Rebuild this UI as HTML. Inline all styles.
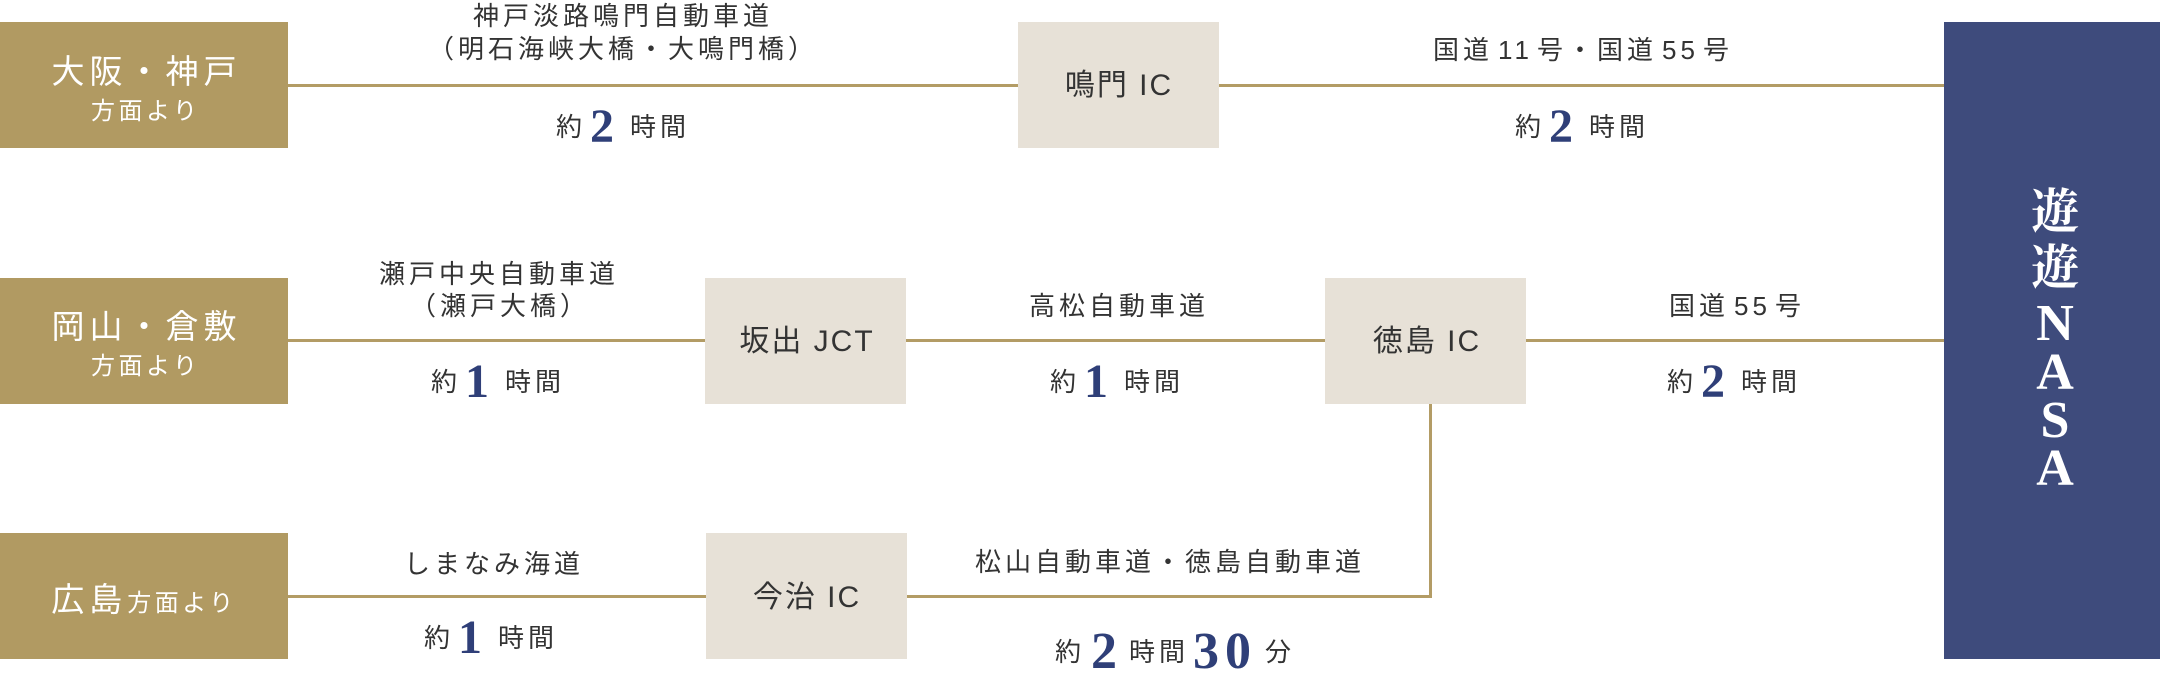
<!DOCTYPE html>
<html lang="ja">
<head>
<meta charset="utf-8">
<style>
  html,body{margin:0;padding:0;background:#fff;}
  body{width:2160px;height:694px;position:relative;overflow:hidden;
       font-family:"Liberation Sans","Noto Sans CJK JP",sans-serif;color:#333;}
  .gold{position:absolute;left:0;width:288px;height:126px;background:#b19a62;}
  .ic{position:absolute;width:201px;height:126px;background:#e7e1d7;}
  .nasa{position:absolute;left:1944px;top:22px;width:216px;height:637px;background:#3e4b7c;}
  .ln{position:absolute;height:3px;background:#b39c65;}
  .lbl{position:absolute;width:600px;text-align:center;font-size:26px;letter-spacing:4px;
       line-height:34px;height:34px;padding-left:4px;box-sizing:border-box;white-space:nowrap;}
  .nb{position:absolute;width:288px;left:0;text-align:center;color:#fff;white-space:nowrap;box-sizing:border-box;}
  .nb1{font-size:33px;letter-spacing:5px;padding-left:5px;line-height:40px;height:40px;}
  .nb2{font-size:24px;letter-spacing:3.5px;padding-left:3.5px;line-height:30px;height:30px;}
  .icl{position:absolute;width:300px;text-align:center;font-size:30px;letter-spacing:2px;padding-left:2px;
       box-sizing:border-box;line-height:40px;height:40px;white-space:nowrap;color:#333;}
  .tm{position:absolute;height:60px;display:flex;align-items:center;white-space:nowrap;}
  .tm .k{font-size:26px;letter-spacing:4px;line-height:26px;}
  .tm .d{font-family:"Liberation Serif",serif;font-weight:bold;font-size:48px;line-height:48px;color:#2f3f78;margin-left:4px;margin-right:16px;}
  .tm .d2{font-family:"Liberation Serif",serif;font-weight:bold;font-size:52px;line-height:52px;color:#2f3f78;}
  .n{margin:0 4px 0 5px;}
  .ns{position:absolute;width:120px;left:1995px;text-align:center;color:#fff;font-weight:bold;}
  .nk{font-family:"Liberation Serif","Noto Serif CJK SC",serif;font-size:48px;line-height:48px;height:48px;}
  .nl{font-family:"Liberation Serif",serif;font-size:52px;line-height:52px;height:52px;}
</style>
</head>
<body>

<!-- boxes -->
<div class="gold" style="top:22px;"></div>
<div class="gold" style="top:278px;"></div>
<div class="gold" style="top:533px;"></div>

<div class="ic" style="left:1018px;top:22px;"></div>
<div class="ic" style="left:705px;top:278px;"></div>
<div class="ic" style="left:1325px;top:278px;"></div>
<div class="ic" style="left:706px;top:533px;"></div>

<div class="nasa"></div>

<!-- lines -->
<div class="ln" style="left:288px;top:84px;width:730px;"></div>
<div class="ln" style="left:1219px;top:84px;width:725px;"></div>
<div class="ln" style="left:288px;top:339px;width:417px;"></div>
<div class="ln" style="left:906px;top:339px;width:419px;"></div>
<div class="ln" style="left:1526px;top:339px;width:418px;"></div>
<div class="ln" style="left:288px;top:595px;width:418px;"></div>
<div class="ln" style="left:907px;top:595px;width:525px;"></div>
<div class="ln" style="left:1429px;top:404px;width:3px;height:194px;"></div>

<!-- node labels -->
<div class="nb nb1" style="top:52px;">大阪・神戸</div>
<div class="nb nb2" style="top:97px;">方面より</div>
<div class="nb nb1" style="top:307px;">岡山・倉敷</div>
<div class="nb nb2" style="top:352px;">方面より</div>
<div class="nb" style="top:580px;line-height:40px;height:40px;"><span style="font-size:33px;letter-spacing:5px;">広島</span><span style="font-size:24px;letter-spacing:3.5px;">方面より</span></div>

<div class="icl" style="left:968px;top:66px;">鳴門 IC</div>
<div class="icl" style="left:656px;top:322px;">坂出 JCT</div>
<div class="icl" style="left:1276px;top:322px;">徳島 IC</div>
<div class="icl" style="left:656px;top:578px;">今治 IC</div>

<!-- connector labels -->
<div class="lbl" style="left:321px;top:-1px;">神戸淡路鳴門自動車道</div>
<div class="lbl" style="left:321px;top:32px;">（明石海峡大橋・大鳴門橋）</div>
<div class="lbl" style="left:1281px;top:33px;">国道<span class="n">11</span>号・国道<span class="n">55</span>号</div>
<div class="lbl" style="left:197px;top:257px;">瀬戸中央自動車道</div>
<div class="lbl" style="left:198px;top:289px;">（瀬戸大橋）</div>
<div class="lbl" style="left:817px;top:289px;">高松自動車道</div>
<div class="lbl" style="left:1435px;top:289px;">国道<span class="n">55</span>号</div>
<div class="lbl" style="left:192px;top:547px;">しまなみ海道</div>
<div class="lbl" style="left:868px;top:545px;">松山自動車道・徳島自動車道</div>

<!-- time labels -->
<div class="tm" style="left:556px;top:97px;"><span class="k">約</span><span class="d">2</span><span class="k">時間</span></div>
<div class="tm" style="left:1515px;top:97px;"><span class="k">約</span><span class="d">2</span><span class="k">時間</span></div>
<div class="tm" style="left:431px;top:352px;"><span class="k">約</span><span class="d">1</span><span class="k">時間</span></div>
<div class="tm" style="left:1050px;top:352px;"><span class="k">約</span><span class="d">1</span><span class="k">時間</span></div>
<div class="tm" style="left:1667px;top:352px;"><span class="k">約</span><span class="d">2</span><span class="k">時間</span></div>
<div class="tm" style="left:424px;top:608px;"><span class="k">約</span><span class="d">1</span><span class="k">時間</span></div>
<div class="tm" style="left:1055px;top:622px;"><span class="k">約</span><span class="d2" style="margin-left:6px;margin-right:12px;">2</span><span class="k">時間</span><span class="d2" style="letter-spacing:6px;margin-left:4px;margin-right:8px;">30</span><span class="k">分</span></div>

<!-- NASA vertical text -->
<div class="ns nk" style="top:189px;">遊</div>
<div class="ns nk" style="top:245px;">遊</div>
<div class="ns nl" style="top:298px;">N</div>
<div class="ns nl" style="top:347px;">A</div>
<div class="ns nl" style="top:395px;">S</div>
<div class="ns nl" style="top:443px;">A</div>

</body>
</html>
